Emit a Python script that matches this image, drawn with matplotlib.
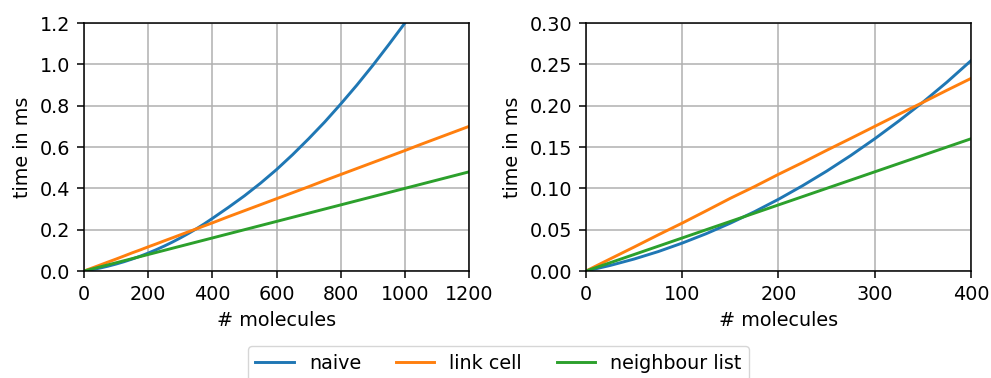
import matplotlib
matplotlib.use("Agg")
import matplotlib.pyplot as plt

# values (time in ms vs number of molecules)
molecules = [0, 25, 50, 75, 100, 125, 150, 175, 200, 225, 250, 275, 300, 325,
             350, 375, 400, 450, 500, 550, 600, 650, 700, 750, 800, 850, 900,
             950, 1000, 1050, 1100, 1150, 1200]
naive = [0.0, 0.0067, 0.0145, 0.0235, 0.0338, 0.0452, 0.0579, 0.0717, 0.0868,
         0.1032, 0.1208, 0.1397, 0.1600, 0.1815, 0.2042, 0.2285, 0.2545, 0.308,
         0.364, 0.425, 0.491, 0.563, 0.640, 0.721, 0.808, 0.899, 0.995, 1.096,
         1.200, 1.310, 1.425, 1.545, 1.670]
link_cell = [0.0, 0.0146, 0.029, 0.0437, 0.058, 0.0729, 0.088, 0.1021, 0.117,
             0.1312, 0.146, 0.1604, 0.175, 0.1896, 0.204, 0.2187, 0.233, 0.263,
             0.292, 0.321, 0.350, 0.379, 0.408, 0.438, 0.467, 0.496, 0.525,
             0.554, 0.583, 0.613, 0.642, 0.671, 0.700]
neighbour_list = [0.0, 0.010, 0.020, 0.030, 0.040, 0.050, 0.060, 0.070, 0.080,
                  0.090, 0.100, 0.110, 0.120, 0.130, 0.140, 0.150, 0.160, 0.180,
                  0.200, 0.220, 0.240, 0.260, 0.280, 0.300, 0.320, 0.340, 0.360,
                  0.380, 0.400, 0.420, 0.440, 0.460, 0.480]

labels = ["naive", "link cell", "neighbour list"]
colors = ["#1f77b4", "#ff7f0e", "#2ca02c"]

# reference looks like default style scaled up ~1.4x
plt.rcParams.update({
    "font.size": 13.8,
    "xtick.major.size": 4.9,
    "ytick.major.size": 4.9,
    "xtick.major.pad": 4.9,
    "ytick.major.pad": 4.9,
    "xtick.major.width": 1.1,
    "ytick.major.width": 1.1,
    "axes.linewidth": 1.1,
    "axes.labelpad": 5.5,
})

fig = plt.figure(figsize=(9.91, 3.78), dpi=100)
ax1 = fig.add_axes([0.0848, 0.283, 0.3885, 0.656])
ax2 = fig.add_axes([0.5913, 0.283, 0.3885, 0.656])

for ax, xmax, ymax, yticks in [
    (ax1, 1200, 1.2, [0.0, 0.2, 0.4, 0.6, 0.8, 1.0, 1.2]),
    (ax2, 400, 0.30, [0.0, 0.05, 0.10, 0.15, 0.20, 0.25, 0.30]),
]:
    lines = []
    for series, lab, col in zip([naive, link_cell, neighbour_list], labels, colors):
        ln, = ax.plot(molecules, series, color=col, lw=2.1, label=lab)
        lines.append(ln)
    ax.set_xlim(0, xmax)
    ax.set_ylim(0, ymax)
    ax.set_yticks(yticks)
    ax.set_xlabel("# molecules")
    ax.set_ylabel("time in ms")
    ax.grid(True, color="#b0b0b0", lw=1.1)
    ax.set_axisbelow(True)

ax2.set_yticklabels(["0.00", "0.05", "0.10", "0.15", "0.20", "0.25", "0.30"])

fig.legend(lines, labels, loc="lower center", ncol=3,
           bbox_to_anchor=(0.503, -0.032), frameon=True, columnspacing=1.8,
           handlelength=2.0)

fig.savefig("out.png", dpi=100)
